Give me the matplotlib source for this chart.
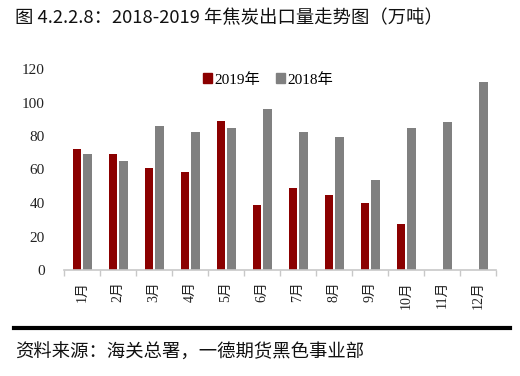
import numpy as np
import matplotlib.pyplot as plt
from matplotlib.patches import Patch

plt.rcParams['font.family'] = ['Noto Sans CJK SC', 'DejaVu Sans']

months = ['1月', '2月', '3月', '4月', '5月', '6月', '7月', '8月', '9月', '10月', '11月', '12月']
exports_2019 = [72.2, 69.4, 60.7, 58.7, 88.8, 38.8, 49.1, 44.6, 39.8, 27.5, np.nan, np.nan]
exports_2018 = [69.2, 65.3, 85.8, 82.2, 84.6, 96.3, 82.2, 79.4, 53.5, 84.6, 88.4, 112.4]

red = '#8B0000'
gray = '#808080'
serif_cjk = ['Liberation Serif', 'Noto Sans CJK SC']

fig = plt.figure(figsize=(5.2, 3.76), dpi=100)
ax = fig.add_axes([64 / 520, 1 - 270 / 376, 432 / 520, 201 / 376])

x = np.arange(len(months))
w = 0.23
ax.bar(x - 0.13, exports_2019, width=w, color=red, label='2019年')
ax.bar(x + 0.15, exports_2018, width=w, color=gray, label='2018年')

ax.set_xlim(-0.5, len(months) - 0.5)
ax.set_ylim(0, 120)
ax.set_yticks(range(0, 121, 20))
ax.set_yticklabels([str(v) for v in range(0, 121, 20)], family=serif_cjk, fontsize=11, color='#222222')
ax.tick_params(axis='y', length=0, pad=14)

ax.set_xticks(x)
ax.set_xticklabels(months, rotation=90, family=serif_cjk, fontsize=10, color='#222222', va='top')
ax.tick_params(axis='x', which='major', length=0, pad=8)
ax.set_xticks(np.arange(-0.5, len(months) + 0.5, 1), minor=True)
ax.tick_params(axis='x', which='minor', length=4, color='#c8c8c8', width=1)

for s in ['top', 'right', 'left']:
    ax.spines[s].set_visible(False)
ax.spines['bottom'].set_color('#c8c8c8')
ax.spines['bottom'].set_linewidth(1.2)

handles = [Patch(color=red, label='2019年'), Patch(color=gray, label='2018年')]
leg = ax.legend(handles=handles, loc='upper left', bbox_to_anchor=(0.29, 1.05), ncol=2, frameon=False,
                handlelength=0.6, handleheight=0.6, handletextpad=0.15, columnspacing=1.0,
                prop={'family': serif_cjk, 'size': 11})

fig.text(15 / 520, 1 - 18 / 376, '图 4.2.2.8：2018-2019 年焦炭出口量走势图（万吨）', fontsize=13.2,
         va='center', ha='left', color='#111111')
fig.add_artist(plt.Line2D([14 / 520, 510 / 520], [1 - 328 / 376, 1 - 328 / 376], color='black', linewidth=3,
                          transform=fig.transFigure))
fig.text(15 / 520, 1 - 353 / 376, '资料来源：海关总署，一德期货黑色事业部', fontsize=13.2,
         va='center', ha='left', color='#111111')

fig.savefig('out.png', dpi=100)
